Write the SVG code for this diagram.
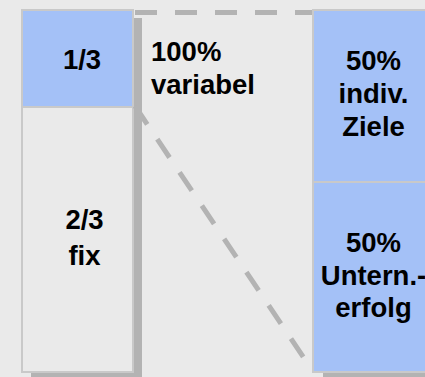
<svg xmlns="http://www.w3.org/2000/svg" width="425" height="377" viewBox="0 0 425 377">
  <style>
    .shadow { fill: #b3b3b3; }
    .blue { fill: #a4c1f7; stroke: #c9c9c9; stroke-width: 2; }
    .grey { fill: #eaeaea; stroke: #c9c9c9; stroke-width: 2; }
    .dash { fill: none; stroke: #b3b3b3; stroke-width: 5; stroke-dasharray: 22 18; }
    text { font-family: "Liberation Sans", Arial, sans-serif; font-weight: bold; font-size: 27.5px; fill: #000; }
    .c { text-anchor: middle; }
  </style>
  <rect width="425" height="377" fill="#eaeaea"/>

  <!-- left column: share of total -->
  <g id="left-column">
    <rect class="shadow" x="31" y="18" width="111" height="359"/>
    <g id="variable-share">
      <rect class="blue" x="22" y="10" width="111" height="97"/>
      <text class="c" x="82" y="69">1/3</text>
    </g>
    <g id="fixed-share">
      <rect class="grey" x="22" y="107" width="111" height="265"/>
      <text class="c" x="84.5" y="229">2/3</text>
      <text class="c" x="84.5" y="265">fix</text>
    </g>
  </g>

  <!-- expansion lines from the variable share -->
  <g id="connectors">
    <line class="dash" x1="135" y1="12.5" x2="318" y2="12.5"/>
    <line class="dash" x1="135" y1="106" x2="306" y2="361"/>
  </g>

  <g id="label-variable">
    <text x="151" y="61">100%</text>
    <text x="151" y="94">variabel</text>
  </g>

  <!-- right column: split of the variable part -->
  <g id="right-column">
    <rect class="shadow" x="323" y="18" width="111" height="359"/>
    <g id="individual-goals">
      <rect class="blue" x="313" y="10" width="122" height="172"/>
      <text class="c" x="373.5" y="70">50%</text>
      <text class="c" x="373.5" y="103">indiv.</text>
      <text class="c" x="373.5" y="136">Ziele</text>
    </g>
    <g id="company-success">
      <rect class="blue" x="313" y="182" width="122" height="190"/>
      <text class="c" x="373.5" y="252">50%</text>
      <text class="c" x="373.5" y="285">Untern.-</text>
      <text class="c" x="373.5" y="317">erfolg</text>
    </g>
  </g>
</svg>
